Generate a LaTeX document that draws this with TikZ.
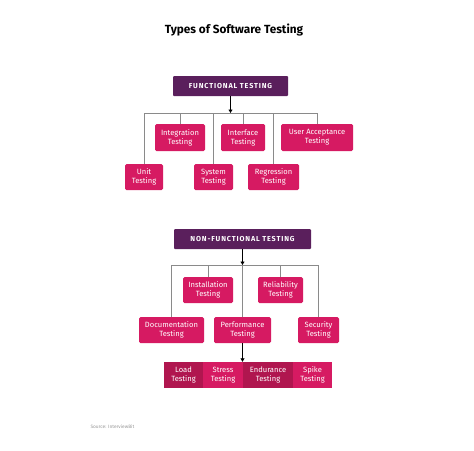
\documentclass[tikz,border=0pt]{standalone}
\usepackage{fontspec}
\setmainfont{Fira Sans}
\usetikzlibrary{arrows.meta}
\definecolor{headpurple}{HTML}{5A1F5C}
\definecolor{boxpink}{HTML}{D61A62}
\definecolor{boxdark}{HTML}{B0164F}
\definecolor{linegray}{HTML}{8A8A8A}
\begin{document}
\begin{tikzpicture}[x=1pt,y=-1pt]
	\tikzstyle{Head} = [rectangle, rounded corners=1pt, minimum height=20pt, inner sep=0pt, fill=headpurple, text=white, font=\fontsize{7.2}{8}\selectfont\bfseries\addfontfeature{LetterSpace=12}]
	\tikzstyle{Node} = [rectangle, rounded corners=1.5pt, minimum height=26pt, inner sep=0pt, align=center, fill=boxpink, text=white, font=\fontsize{7.6}{9}\selectfont]
	\tikzstyle{link} = [line width=0.8pt, linegray]
	\tikzstyle{arrow} = [line width=0.8pt, -{Triangle[width=4pt,length=3.5pt]}, black]
	
	\useasboundingbox (0,0) rectangle (474,450);
	\node (title) at (234,30) {\fontsize{11.8}{13}\selectfont\bfseries Types of Software Testing};
	
	% functional
	\node (ft) [Head, minimum width=115pt] at (230.5,86) {FUNCTIONAL TESTING};
	\node (integ) [Node, minimum width=50pt, minimum height=27pt] at (180,137.5) {Integration\\Testing};
	\node (iface) [Node, minimum width=44pt, minimum height=27pt] at (243,137.5) {Interface\\Testing};
	\node (uat) [Node, minimum width=72pt, minimum height=27pt] at (317,137.5) {User Acceptance\\Testing};
	\node (unit) [Node, minimum width=38pt] at (144,177) {Unit\\Testing};
	\node (sys) [Node, minimum width=39pt] at (213.5,177) {System\\Testing};
	\node (regr) [Node, minimum width=51pt] at (273.5,177) {Regression\\Testing};
	
	\coordinate (fbus) at (230.5,113);
	\draw [link] (unit.north |- fbus) -- (uat.north |- fbus);
	\draw [link] (unit.north) -- (unit.north |- fbus);
	\draw [link] (integ.north) -- (integ.north |- fbus);
	\draw [link] (sys.north) -- (sys.north |- fbus);
	\draw [link] (iface.north) -- (iface.north |- fbus);
	\draw [link] (regr.north) -- (regr.north |- fbus);
	\draw [link] (uat.north) -- (uat.north |- fbus);
	\draw [arrow] (ft.south) -- (fbus);
	
	% non-functional
	\node (nft) [Head, minimum width=137pt] at (242.5,239) {NON-FUNCTIONAL TESTING};
	\node (inst) [Node, minimum width=50pt] at (208,290) {Installation\\Testing};
	\node (rel) [Node, minimum width=45pt] at (280.5,290) {Reliability\\Testing};
	\node (doc) [Node, minimum width=65pt] at (171.5,330) {Documentation\\Testing};
	\node (perf) [Node, minimum width=57pt] at (242.5,330) {Performance\\Testing};
	\node (sec) [Node, minimum width=41pt] at (318.5,330) {Security\\Testing};
	
	\coordinate (nbus) at (242.5,265);
	\draw [link] (doc.north |- nbus) -- (sec.north |- nbus);
	\draw [link] (doc.north) -- (doc.north |- nbus);
	\draw [link] (inst.north) -- (inst.north |- nbus);
	\draw [link] (perf.north) -- (nbus);
	\draw [link] (rel.north) -- (rel.north |- nbus);
	\draw [link] (sec.north) -- (sec.north |- nbus);
	\draw [arrow] (nft.south) -- (nbus);
	
	% performance kinds
	\node (load) [Node, rounded corners=0pt, fill=boxdark, minimum width=39pt] at (183.5,375) {Load\\Testing};
	\node (stress) [Node, rounded corners=0pt, minimum width=40pt] at (223,375) {Stress\\Testing};
	\node (endur) [Node, rounded corners=0pt, fill=boxdark, minimum width=50pt] at (268,375) {Endurance\\Testing};
	\node (spike) [Node, rounded corners=0pt, minimum width=39pt] at (312.5,375) {Spike\\Testing};
	\draw [arrow] (perf.south) -- (perf.south |- endur.north);
	
	\node (src) [anchor=west, text=gray!80, font=\fontsize{4.8}{5}\selectfont] at (87,427) {Source: InterviewBit};
\end{tikzpicture}
\end{document}
